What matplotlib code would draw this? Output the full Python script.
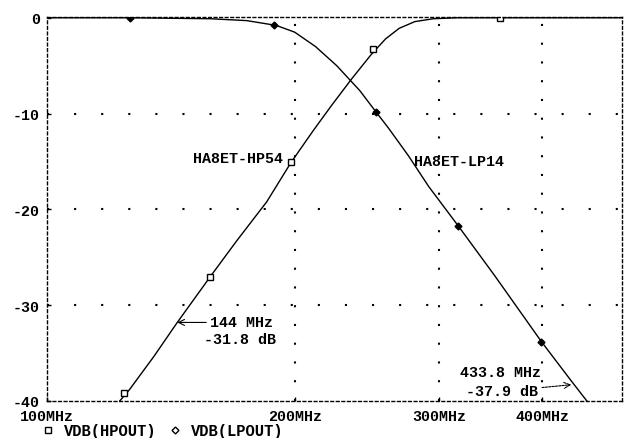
import matplotlib.pyplot as plt
from matplotlib.lines import Line2D

plt.rcParams['axes.unicode_minus'] = False
plt.rcParams['font.family'] = ['Liberation Mono', 'DejaVu Sans Mono']
plt.rcParams['font.weight'] = 'bold'

# HA8ET-HP54 high pass response, VDB(HPOUT)
hp_f = [122, 126, 135, 144, 158, 170, 185, 198, 211, 222, 235, 248, 258, 268, 280, 295, 315, 350, 500]
hp_db = [-40.2, -38.8, -35.3, -31.8, -27.0, -23.3, -19.2, -15.1, -11.7, -9.1, -6.3, -3.8, -2.2, -1.1, -0.4, -0.1, 0, 0, 0]
hp_mark_f = [124, 158, 198, 249, 355]
hp_mark_db = [-39.2, -27.1, -15.1, -3.3, 0]

# HA8ET-LP14 low pass response, VDB(LPOUT)
lp_f = [100, 126, 158, 175, 190, 200, 212, 225, 240, 251, 260, 275, 291, 316, 350, 399, 433.8, 457]
lp_db = [0, 0, -0.1, -0.3, -0.8, -1.5, -3.0, -5.0, -7.6, -9.8, -11.5, -14.4, -17.6, -21.7, -26.9, -33.8, -37.9, -40.4]
lp_mark_f = [126, 189, 251, 316, 399]
lp_mark_db = [0, -0.8, -9.8, -21.7, -33.8]

x_ticks = [100, 200, 300, 400]
x_labels = ['100MHz', '200MHz', '300MHz', '400MHz']
y_ticks = [0, -10, -20, -30, -40]

fs = 10.8

fig = plt.figure(figsize=(6.32, 4.39), dpi=100)
ax = fig.add_axes([47/632, 1-402/439, 575/632, 384/439])

ax.plot(hp_f, hp_db, color='black', lw=1)
ax.plot(lp_f, lp_db, color='black', lw=1)
ax.plot(hp_mark_f, hp_mark_db, 's', ms=4, mfc='white', mec='black', mew=1)
ax.plot(lp_mark_f, lp_mark_db, 'D', ms=3.5, color='black')

ax.set_xscale('log')
ax.set_xlim(100, 500)
ax.set_ylim(-40, 0.08)
ax.minorticks_off()
ax.set_xticks(x_ticks)
ax.set_xticklabels(x_labels)
ax.set_yticks(y_ticks)
ax.set_yticklabels([str(v) for v in y_ticks])
ax.tick_params(direction='in', length=3, width=1, labelsize=fs)
ax.tick_params(axis='x', pad=5.5)
ax.tick_params(axis='y', pad=5)

for v in x_ticks[1:]:
    ax.axvline(v, color='black', lw=1.5, ls=(0, (1, 8)))
for v in y_ticks[1:-1]:
    ax.axhline(v, color='black', lw=1.5, ls=(0, (1, 12)))

for s in ax.spines.values():
    s.set_linestyle((0, (2, 2)))
    s.set_linewidth(1)

ax.text(150.6, -14.6, 'HA8ET-HP54', fontsize=fs, va='center', ha='left')
ax.text(279, -15.0, 'HA8ET-LP14', fontsize=fs, va='center', ha='left')

ax.annotate('144 MHz', xy=(144, -31.8), xytext=(158, -31.8), fontsize=fs, va='center', ha='left',
            arrowprops=dict(arrowstyle='->', color='black', lw=0.8, shrinkA=1, shrinkB=0))
ax.text(155, -33.5, '-31.8 dB', fontsize=fs, va='center', ha='left')

ax.text(318, -37.0, '433.8 MHz', fontsize=fs, va='center', ha='left')
ax.annotate('-37.9 dB', xy=(433.8, -38.3), xytext=(323, -39.0), fontsize=fs, va='center', ha='left',
            arrowprops=dict(arrowstyle='->', color='black', lw=0.8, ls=(0, (2, 1)), shrinkA=1, shrinkB=0))

handles = [Line2D([], [], ls='none', marker='s', ms=4, mfc='white', mec='black'),
           Line2D([], [], ls='none', marker='D', ms=3.5, mfc='white', mec='black')]
fig.legend(handles, ['VDB(HPOUT)', 'VDB(LPOUT)'], loc='center left', bbox_to_anchor=(42/632, 1-432/439),
           ncol=2, frameon=False, fontsize=11.2, handlelength=0.8, handletextpad=0.6,
           columnspacing=0.8, borderaxespad=0, borderpad=0)

fig.savefig('out.png', dpi=100)
